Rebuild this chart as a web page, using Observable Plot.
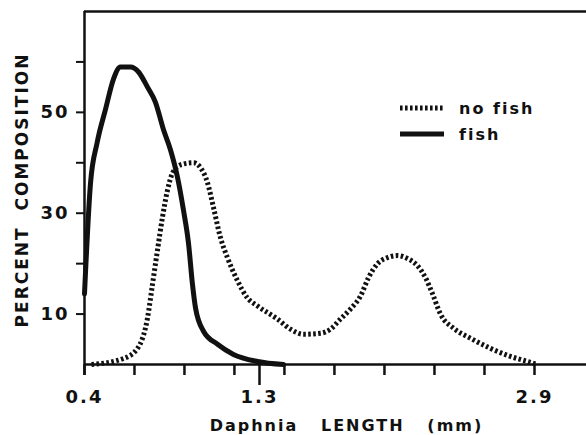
<!DOCTYPE html>
<html><head><meta charset="utf-8">
<script src="https://cdn.jsdelivr.net/npm/d3@7"></script>
<script src="https://cdn.jsdelivr.net/npm/@observablehq/plot@0.6"></script>
<style>
body{margin:0;background:#fff;}
#wrap{position:relative;width:586px;height:435px;}
.leg{position:absolute;left:400px;height:20px;font:bold 16px "DejaVu Sans";letter-spacing:2px;color:#111;display:flex;align-items:center;}
.leg svg{margin-right:15px;}
</style></head><body><div id="wrap"></div>
<script>
// Series: Daphnia length (mm) and percent composition
const noFishX = [0.436,0.601,0.673,0.724,0.750,0.775,0.801,0.827,0.853,0.894,0.961,0.997,1.033,1.063,1.099,1.135,1.187,1.238,1.290,1.405,1.480,1.556,1.655,1.713,1.771,1.829,1.888,1.934,1.987,2.045,2.103,2.161,2.219,2.266,2.307,2.353,2.429,2.528,2.644,2.760,2.859,2.917];
const noFishY = [0,1.2,3.2,9.2,16,22.6,29.2,34.6,38,39.6,40,39,36,31.2,25.2,21.2,16.6,13.2,11.6,9,7,6,6.2,7,9,11,13.6,17.2,20,21.2,21.6,21,19.6,17.2,14,10,7.2,5.2,3.2,1.6,0.6,0];
const fishX = [0.400,0.431,0.465,0.508,0.549,0.585,0.637,0.678,0.724,0.765,0.806,0.842,0.878,0.909,0.935,0.955,0.971,1.012,1.084,1.166,1.290,1.440];
const fishY = [14,36,44,50.6,56.6,59,59,58,55,52,46.6,42.6,37.2,30.6,24,16,11.2,6.6,4,2,0.6,0];
const seriesNames = ["no fish", "fish"];
// Axis ticks (the printed axis is not uniform: labels 0.4, 1.3, 2.9 sit at 0, 3.5 and 9 tick intervals)
const xTickLabels = [0.4, 1.3, 2.9];
const xTickLabelSteps = [0, 3.5, 9];
const xMinorTicks = [0.4,0.657,0.914,1.171,1.445,1.736,2.027,2.318,2.609,2.9];
const xMajorTicks = [1.3];
const yTicks = [10,20,30,40,50,60];
const yTickLabels = [10,30,50];
const xLabel = "Daphnia\u00A0\u00A0\u00A0LENGTH\u00A0\u00A0\u00A0(mm)";
const yLabel = "PERCENT\u00A0\u00A0COMPOSITION";

const noFish = noFishX.map((x, i) => ({x, y: noFishY[i]}));
const fish = fishX.map((x, i) => ({x, y: fishY[i]}));
const ink = "#111";
const dots = "2.6,2.4";
const axisWarp = d3.scaleLinear().domain(xTickLabels).range(xTickLabelSteps);
const frameH = 435 - 11 - 71;

const chart = Plot.plot({
  width: 586, height: 435,
  marginLeft: 84, marginRight: 52, marginTop: 11, marginBottom: 71,
  x: {transform: d => axisWarp(d), domain: [0, 9]},
  y: {domain: [0, 70]},
  style: {fontFamily: "DejaVu Sans", fontWeight: "bold", background: "white", color: ink, overflow: "visible", letterSpacing: "2px"},
  marks: [
    Plot.ruleY([0], {stroke: ink, strokeWidth: 2.5, insetRight: -52}),
    Plot.ruleY([70], {stroke: ink, strokeWidth: 2.5, insetRight: -52}),
    Plot.ruleX([0.4], {stroke: ink, strokeWidth: 2.5, insetBottom: -11}),
    Plot.ruleX(xMinorTicks.slice(), {insetTop: frameH, insetBottom: -11, stroke: ink, strokeWidth: 2.5}),
    Plot.ruleX(xMajorTicks.slice(), {insetTop: frameH, insetBottom: -21, stroke: ink, strokeWidth: 2.5}),
    Plot.link(xMinorTicks.slice(), {x1: d => d, x2: d => d, y1: 0, y2: 0, dy: 0, stroke: ink, strokeWidth: 2.5, insetBottom: 0, markerEnd: null, transform: null}),
    Plot.axisY(yTicks, {tickSize: 8, tickPadding: 7, fontSize: 18, tickFormat: d => yTickLabels.includes(d) ? String(d) : "", label: null, stroke: ink, strokeWidth: 2}),
    Plot.axisX(xTickLabels, {tickSize: 0, tickPadding: 26, fontSize: 18, tickFormat: d => d.toFixed(1), label: null}),
    Plot.line(noFish, {x: "x", y: "y", stroke: ink, strokeWidth: 5, strokeDasharray: dots, strokeLinecap: "butt", curve: "monotone-x"}),
    Plot.line(fish, {x: "x", y: "y", stroke: ink, strokeWidth: 5, curve: "monotone-x"}),
    Plot.text([yLabel], {text: d => d, frameAnchor: "left", textAnchor: "middle", lineAnchor: "middle", rotate: -90, dx: -62, dy: 2, fontSize: 17, fill: ink, style: "letter-spacing:3.4px"}),
    Plot.text([xLabel], {text: d => d, frameAnchor: "bottom", textAnchor: "middle", lineAnchor: "middle", dx: 37, dy: 61, fontSize: 16, fill: ink})
  ]
});

const wrap = document.getElementById("wrap");
wrap.appendChild(chart);

const legendRows = [
  {name: seriesNames[0], dash: dots, top: 98},
  {name: seriesNames[1], dash: null, top: 124}
];
for (const r of legendRows) {
  const div = document.createElement("div");
  div.className = "leg";
  div.style.top = r.top + "px";
  div.innerHTML = `<svg width="44" height="8"><line x1="0" y1="4" x2="44" y2="4" stroke="${ink}" stroke-width="5" ${r.dash ? `stroke-dasharray="${r.dash}"` : ""}/></svg><span>${r.name}</span>`;
  wrap.appendChild(div);
}
</script>
</body></html>
